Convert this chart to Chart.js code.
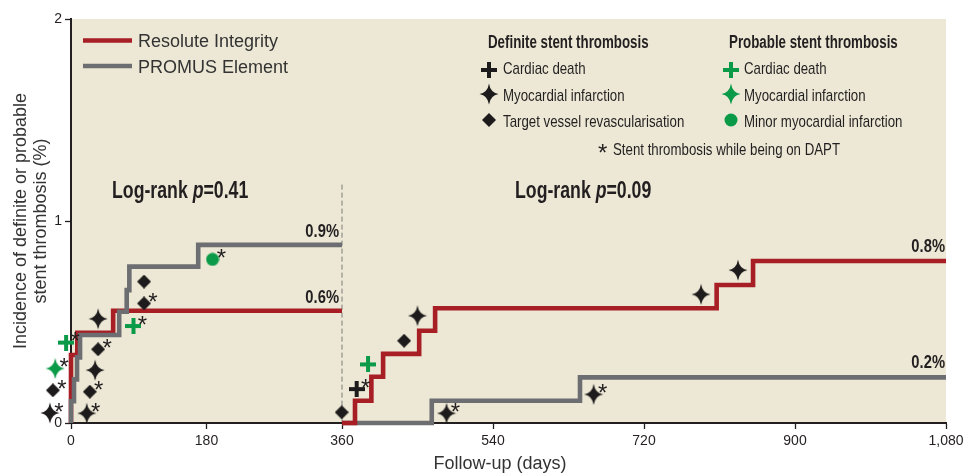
<!DOCTYPE html>
<html><head><meta charset="utf-8">
<script src="https://cdn.jsdelivr.net/npm/chart.js@4/dist/chart.umd.min.js"></script>
<style>html,body{margin:0;padding:0;background:#fff}</style>
</head><body>
<canvas id="c" width="965" height="473"></canvas>
<script>
// ---------------- DATA ----------------
const xTicksEarly = [0, 180];
const xTicksLate = [360, 540, 720, 900, 1080];
const yTicks = [0, 1, 2];

// Kaplan-Meier steps: day of event, cumulative incidence (%) after event
const resoluteEarlyDays = [0, 0, 8.4, 56, 360];
const resoluteEarlyPct  = [0, 0.337, 0.447, 0.556, 0.556];
const promusEarlyDays   = [0, 0, 4, 8, 12, 64, 74, 77.5, 169, 360];
const promusEarlyPct    = [0, 0.108, 0.216, 0.325, 0.436, 0.551, 0.658, 0.774, 0.882, 0.882];
const resoluteLateDays  = [360, 375.5, 395, 409, 452, 471, 806.6, 850, 1080];
const resoluteLatePct   = [0, 0.11, 0.229, 0.342, 0.457, 0.568, 0.683, 0.802, 0.802];
const promusLateDays    = [360, 467, 643.7, 1080];
const promusLatePct     = [0, 0.11, 0.226, 0.226];

const endLabelsEarly = ['0.9%', '0.6%'];   // PROMUS, Resolute at 1 year
const endLabelsLate  = ['0.8%', '0.2%'];   // Resolute, PROMUS at 3 years
const logRankEarly = '0.41';
const logRankLate  = '0.09';

// Individual events: [day, incidence %, on DAPT (1 = yes)]
const defMIEarly   = [[-28, 0.05, 1], [21, 0.048, 1], [32, 0.262, 0], [36, 0.516, 0]];
const defTVREarly  = [[-24, 0.162, 1], [25, 0.155, 1], [36, 0.365, 1], [97, 0.592, 1], [97, 0.70, 0], [359.6, 0.053, 0]];
const probCDEarly  = [[-6.5, 0.398, 1], [83, 0.48, 1]];
const probMIEarly  = [[-21, 0.27, 1]];
const minorMIEarly = [[188, 0.81, 1]];
const defCDLate    = [[377.5, 0.168, 1]];
const probCDLate   = [[391, 0.29, 0]];
const defTVRLate   = [[434, 0.407, 0]];
const defMILate    = [[450, 0.531, 0], [484.6, 0.048, 1], [660, 0.142, 1], [788, 0.637, 0], [832, 0.757, 0]];

const seriesNames = ['Resolute Integrity', 'PROMUS Element'];
const legendDefinite = ['Definite stent thrombosis', 'Cardiac death', 'Myocardial infarction', 'Target vessel revascularisation'];
const legendProbable = ['Probable stent thrombosis', 'Cardiac death', 'Myocardial infarction', 'Minor myocardial infarction'];
const legendDapt = 'Stent thrombosis while being on DAPT';
const xTitle = 'Follow-up (days)';
const yTitle = ['Incidence of definite or probable', 'stent thrombosis (%)'];

// ---------------- STYLE ----------------
const RED = '#a71e25', GRAY = '#6d6e71', GREEN = '#0a9a48', BLACK = '#1e1b1c', TXT = '#231f20';
const BEIGE = '#ece8d5';
const SANS = '"Liberation Sans", Arial, sans-serif';
const COND = 0.78;   // horizontal squeeze to imitate a condensed face
const STAR_FONT = '24px ' + SANS;

function mk(w, h, draw) { const c = document.createElement('canvas'); c.width = w; c.height = h; const g = c.getContext('2d'); draw(g, w, h); return c; }
function sparkle(color) {
  return mk(20, 22, (g, w, h) => {
    const cx = w / 2, cy = h / 2, rx = 9.5, ry = 10.5, k = 1.4;
    g.fillStyle = color; g.beginPath();
    g.moveTo(cx, cy - ry);
    g.quadraticCurveTo(cx + k, cy - k, cx + rx, cy);
    g.quadraticCurveTo(cx + k, cy + k, cx, cy + ry);
    g.quadraticCurveTo(cx - k, cy + k, cx - rx, cy);
    g.quadraticCurveTo(cx - k, cy - k, cx, cy - ry);
    g.fill();
  });
}
function plus(color) {
  return mk(16, 16, (g) => { g.fillStyle = color; g.fillRect(6, 0, 4, 16); g.fillRect(0, 6, 16, 4); });
}
function diamond(color) {
  return mk(14, 14, (g) => { g.fillStyle = color; g.beginPath(); g.moveTo(7, 0); g.lineTo(14, 7); g.lineTo(7, 14); g.lineTo(0, 7); g.closePath(); g.fill(); });
}
function dot(color) {
  return mk(14, 14, (g) => { g.fillStyle = color; g.beginPath(); g.arc(7, 7, 6.5, 0, Math.PI * 2); g.fill(); });
}
const ICON = {
  defCD: plus(BLACK), defMI: sparkle(BLACK), defTVR: diamond(BLACK),
  probCD: plus(GREEN), probMI: sparkle(GREEN), minorMI: dot(GREEN)
};

const pts = (xs, ys) => xs.map((x, i) => ({ x, y: ys[i] }));
const mpts = arr => arr.map(a => ({ x: a[0], y: a[1], dapt: a[2] }));

// pointRadius only widens the "in area" test so events left of the y axis are drawn;
// the image itself is drawn at its own size.
function markerSet(arr, icon, axis) {
  return { type: 'line', data: mpts(arr), xAxisID: axis, yAxisID: 'y', showLine: false,
    pointStyle: ICON[icon], pointRadius: 30, pointHoverRadius: 30, pointBorderWidth: 0, clip: false, isMarker: true };
}
function stepSet(label, xs, ys, color, axis) {
  return { type: 'line', label, data: pts(xs, ys), xAxisID: axis, yAxisID: 'y', stepped: true,
    borderColor: color, borderWidth: 4.6, pointRadius: 0, fill: false, clip: false,
    borderJoinStyle: 'miter', borderCapStyle: 'butt' };
}

const datasets = [
  markerSet(defMIEarly, 'defMI', 'x1'),
  markerSet(defTVREarly, 'defTVR', 'x1'),
  markerSet(probCDEarly, 'probCD', 'x1'),
  markerSet(probMIEarly, 'probMI', 'x1'),
  markerSet(minorMIEarly, 'minorMI', 'x1'),
  markerSet(defCDLate, 'defCD', 'x2'),
  markerSet(probCDLate, 'probCD', 'x2'),
  markerSet(defTVRLate, 'defTVR', 'x2'),
  markerSet(defMILate, 'defMI', 'x2'),
  stepSet(seriesNames[1], promusEarlyDays, promusEarlyPct, GRAY, 'x1'),
  stepSet(seriesNames[0], resoluteEarlyDays, resoluteEarlyPct, RED, 'x1'),
  stepSet(seriesNames[0], resoluteLateDays, resoluteLatePct, RED, 'x2'),
  stepSet(seriesNames[1], promusLateDays, promusLatePct, GRAY, 'x2')
];

// ---------------- TEXT HELPERS ----------------
function condText(ctx, text, x, y, font, sx, align) {
  ctx.save(); ctx.font = font; ctx.textAlign = 'left'; ctx.textBaseline = 'alphabetic';
  const w = ctx.measureText(text).width * sx;
  const x0 = align === 'right' ? x - w : align === 'center' ? x - w / 2 : x;
  ctx.translate(x0, y); ctx.scale(sx, 1); ctx.fillText(text, 0, 0);
  ctx.restore();
  return w;
}
function condRuns(ctx, x, y, runs, sx) {
  for (const r of runs) x += condText(ctx, r[0], x, y, r[1], sx, 'left');
}

// ---------------- PLUGINS ----------------
const plotBg = {
  id: 'plotBg',
  beforeDraw(chart) {
    const { ctx, chartArea: a } = chart;
    ctx.save(); ctx.fillStyle = BEIGE; ctx.fillRect(a.left, a.top, a.right - a.left, a.bottom - a.top); ctx.restore();
  },
  beforeDatasetsDraw(chart) {
    const { ctx, scales } = chart;
    const x = scales.x2.getPixelForValue(360);
    ctx.save(); ctx.strokeStyle = '#7a7a7a'; ctx.lineWidth = 1; ctx.setLineDash([5, 3]);
    ctx.beginPath(); ctx.moveTo(x, scales.y.getPixelForValue(1.18)); ctx.lineTo(x, scales.y.getPixelForValue(0)); ctx.stroke();
    ctx.restore();
  }
};

const overlay = {
  id: 'overlay',
  afterDatasetsDraw(chart) {
    const { ctx, scales } = chart;
    const y = scales.y;
    ctx.save();
    ctx.fillStyle = TXT;
    // asterisks (stent thrombosis while on DAPT)
    ctx.font = STAR_FONT; ctx.textAlign = 'left'; ctx.textBaseline = 'alphabetic';
    chart.data.datasets.forEach(ds => {
      if (!ds.isMarker) return;
      const xs = scales[ds.xAxisID];
      ds.data.forEach(p => { if (p.dapt) ctx.fillText('*', xs.getPixelForValue(p.x) + 4.3, y.getPixelForValue(p.y) + 6.8); });
    });
    // end labels
    const PF = 'bold 18px ' + SANS;
    const e1 = scales.x1.getPixelForValue(360) - 3, e2 = scales.x2.getPixelForValue(1080) - 1;
    condText(ctx, endLabelsEarly[0], e1, y.getPixelForValue(promusEarlyPct[promusEarlyPct.length - 1]) - 8, PF, 0.82, 'right');
    condText(ctx, endLabelsEarly[1], e1, y.getPixelForValue(resoluteEarlyPct[resoluteEarlyPct.length - 1]) - 8, PF, 0.82, 'right');
    condText(ctx, endLabelsLate[0], e2, y.getPixelForValue(resoluteLatePct[resoluteLatePct.length - 1]) - 9, PF, 0.82, 'right');
    condText(ctx, endLabelsLate[1], e2, y.getPixelForValue(promusLatePct[promusLatePct.length - 1]) - 9, PF, 0.82, 'right');
    // log-rank
    const B = 'bold 23px ' + SANS, BI = 'italic bold 23px ' + SANS;
    condRuns(ctx, 112, 198, [['Log-rank ', B], ['p', BI], ['=' + logRankEarly, B]], 0.77);
    condRuns(ctx, 515, 198, [['Log-rank ', B], ['p', BI], ['=' + logRankLate, B]], 0.77);
    ctx.restore();
  },
  afterDraw(chart) {
    const { ctx } = chart;
    ctx.save();
    // series legend
    ctx.lineWidth = 4.6;
    ctx.strokeStyle = RED; ctx.beginPath(); ctx.moveTo(83, 40.5); ctx.lineTo(132, 40.5); ctx.stroke();
    ctx.strokeStyle = GRAY; ctx.beginPath(); ctx.moveTo(83, 66); ctx.lineTo(132, 66); ctx.stroke();
    ctx.fillStyle = '#333'; ctx.font = '18px ' + SANS; ctx.textAlign = 'left'; ctx.textBaseline = 'alphabetic';
    ctx.fillText(seriesNames[0], 138, 47);
    ctx.fillText(seriesNames[1], 138, 73);
    // event legend
    ctx.fillStyle = TXT;
    const HF = 'bold 18px ' + SANS, IF = '17px ' + SANS;
    condText(ctx, legendDefinite[0], 488, 48, HF, 0.74);
    condText(ctx, legendProbable[0], 729, 48, HF, 0.74);
    const rowsY = [70, 94, 120], baseY = [74, 100.5, 127];
    const defIcons = [ICON.defCD, ICON.defMI, ICON.defTVR], probIcons = [ICON.probCD, ICON.probMI, ICON.minorMI];
    for (let i = 0; i < 3; i++) {
      const a = defIcons[i], b = probIcons[i];
      ctx.drawImage(a, 489 - a.width / 2, rowsY[i] - a.height / 2);
      condText(ctx, legendDefinite[i + 1], 503, baseY[i], IF, COND);
      ctx.drawImage(b, 731 - b.width / 2, rowsY[i] - b.height / 2);
      condText(ctx, legendProbable[i + 1], 744, baseY[i], IF, COND);
    }
    ctx.font = STAR_FONT;
    ctx.fillText('*', 598, 161);
    condText(ctx, legendDapt, 613, 155, IF, COND);
    // x title
    ctx.fillStyle = '#333'; ctx.font = '18px ' + SANS; ctx.textAlign = 'center';
    ctx.fillText(xTitle, 500, 469);
    ctx.restore();
  }
};

// ---------------- SCALES ----------------
const tickFont = { family: SANS, size: 14 };
function xAxis(weight, min, max, ticks) {
  return {
    type: 'linear', position: 'bottom', stack: 'days', stackWeight: weight, bounds: 'data',
    afterDataLimits: s => { s.min = min; s.max = max; },
    afterBuildTicks: s => { s.ticks = ticks.map(v => ({ value: v })); },
    ticks: { font: tickFont, color: TXT, padding: 4, maxRotation: 0, autoSkip: false, stepSize: 180 },
    grid: { drawOnChartArea: false, drawTicks: true, tickLength: 6, tickColor: TXT, tickWidth: 1.3 },
    border: { display: true, color: TXT, width: 2 },
    afterFit: s => { s.height = 50; s.paddingLeft = 0; s.paddingRight = 0; }
  };
}

new Chart(document.getElementById('c'), {
  type: 'line',
  data: { datasets },
  plugins: [plotBg, overlay],
  options: {
    responsive: false, animation: false, events: [],
    layout: { autoPadding: false, padding: { left: 0, top: 19, right: 19, bottom: 0 } },
    plugins: { legend: { display: false }, tooltip: { enabled: false } },
    scales: {
      x1: xAxis(271, 0, 360, xTicksEarly),
      x2: xAxis(604, 360, 1080, xTicksLate),
      y: {
        type: 'linear', position: 'left', min: 0, max: 2,
        afterBuildTicks: s => { s.ticks = yTicks.map(v => ({ value: v })); },
        ticks: { font: tickFont, color: TXT, padding: 3 },
        grid: { drawOnChartArea: false, drawTicks: true, tickLength: 6, tickColor: TXT, tickWidth: 1.3 },
        border: { display: true, color: TXT, width: 2 },
        title: { display: true, text: yTitle, color: '#333', font: { family: SANS, size: 18, lineHeight: 1.12 }, padding: { top: 11, bottom: 0 } },
        afterFit: s => { s.width = 71; s.paddingTop = 0; s.paddingBottom = 0; }
      }
    }
  }
});
</script>
</body></html>
